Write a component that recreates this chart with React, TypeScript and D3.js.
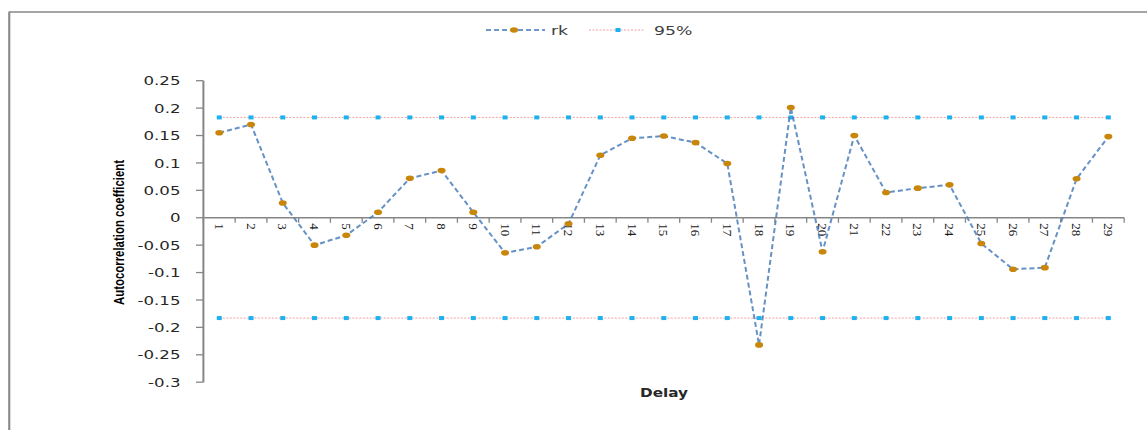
import React from "react";
import * as d3 from "d3";

const delays: number[] = [1,2,3,4,5,6,7,8,9,10,11,12,13,14,15,16,17,18,19,20,21,22,23,24,25,26,27,28,29];
const rk: number[] = [0.155,0.170,0.027,-0.050,-0.032,0.010,0.072,0.086,0.010,-0.064,-0.053,-0.011,0.114,0.145,0.149,0.137,0.099,-0.232,0.201,-0.062,0.150,0.046,0.054,0.060,-0.047,-0.094,-0.091,0.071,0.148];
const limit95: number = 0.183;
const yTickValues: number[] = [0.25,0.2,0.15,0.1,0.05,0,-0.05,-0.1,-0.15,-0.2,-0.25,-0.3];
const yTickLabels: string[] = ["0.25","0.2","0.15","0.1","0.05","0","-0.05","-0.1","-0.15","-0.2","-0.25","-0.3"];
const seriesNames: string[] = ["rk","95%"];

const W = 1147, H = 430;
const AXIS = "#868686";
const BLUE = "#4a7ebb";
const ORANGE = "#c8860a";
const CYAN = "#1db2ee";
const PINK = "#f2a0a0";
const SX = 1.33;

export default function App() {
  const x = d3.scaleBand<number>().domain(delays).range([203.4, 1124.2]).padding(0);
  const y = d3.scaleLinear().domain([-0.3, 0.25]).range([382.2, 80.7]);
  const cx = (d: number) => (x(d) as number) + x.bandwidth() / 2;
  const y0 = y(0);
  const line = d3.line<number>().x((_, i) => cx(delays[i])).y((v) => y(v));
  const upper = delays.map(() => limit95);
  const lower = delays.map(() => -limit95);
  const bounds = [...delays.map((d) => x(d) as number), 1124.2];

  const hText = (tx: number, ty: number, txt: string, props: any) => (
    <g transform={`translate(${tx},${ty}) scale(${SX},1)`}>
      <text {...props}>{txt}</text>
    </g>
  );

  return (
    <div style={{ position: "fixed", left: 0, top: 0 }}>
      <svg width={W} height={H} style={{ display: "block", background: "#fff" }}>
        <path d={`M9.3,${H} V12 H${W}`} fill="none" stroke="#888" strokeWidth={1.3} />
        <line x1={9.3} x2={9.3} y1={12} y2={H} stroke="#888" strokeWidth={2} />

        {/* legend */}
        <g>
          <line x1={486} x2={545} y1={30} y2={30} stroke={BLUE} strokeWidth={2} strokeDasharray="5,3" opacity={0.8} />
          <ellipse cx={514} cy={30} rx={4} ry={2.8} fill={ORANGE} />
          {hText(551, 34.5, seriesNames[0], { fontFamily: "DejaVu Sans, Verdana, sans-serif", fontSize: 13, fill: "#404040" })}
          <line x1={589} x2={645} y1={30} y2={30} stroke={PINK} strokeWidth={1} strokeDasharray="2,1.5" />
          <rect x={615.5} y={28} width={5} height={4} fill={CYAN} />
          {hText(654, 34.5, seriesNames[1], { fontFamily: "DejaVu Sans, Verdana, sans-serif", fontSize: 13, fill: "#404040" })}
        </g>

        {/* y axis */}
        <line x1={203.4} x2={203.4} y1={y(0.25)} y2={y(-0.3)} stroke={AXIS} strokeWidth={2} />
        {yTickValues.map((v, i) => (
          <g key={"yt" + i}>
            <line x1={196} x2={203.4} y1={y(v)} y2={y(v)} stroke={AXIS} strokeWidth={1.3} />
            {hText(180.5, y(v) + 4.6, yTickLabels[i], { fontFamily: "DejaVu Sans, Verdana, sans-serif", fontSize: 12.5, fill: "#262626", textAnchor: "end" })}
          </g>
        ))}

        {/* x axis at zero */}
        <line x1={203.4} x2={1124.2} y1={y0} y2={y0} stroke={AXIS} strokeWidth={1.5} />
        {bounds.map((b, i) => (
          <line key={"xt" + i} x1={b} x2={b} y1={y0} y2={y0 + 5} stroke={AXIS} strokeWidth={1.3} />
        ))}
        {delays.map((d) => (
          <g key={"xl" + d} transform={`translate(${cx(d) - 4.5},${y0 + 5.5}) rotate(90)`}>
            <text x={0} y={0}
              fontFamily="Liberation Serif, Times New Roman, serif" fontSize={13} fill="#1a1a1a">{d}</text>
          </g>
        ))}

        {/* 95% lines */}
        {[upper, lower].map((arr, k) => (
          <g key={"lim" + k}>
            <path d={line(arr) || ""} fill="none" stroke={PINK} strokeWidth={1} strokeDasharray="2,1.5" />
            {arr.map((v, i) => (
              <rect key={i} x={cx(delays[i]) - 2.5} y={y(v) - 2} width={5} height={4} fill={CYAN} />
            ))}
          </g>
        ))}

        {/* rk series */}
        <path d={line(rk) || ""} fill="none" stroke={BLUE} strokeWidth={2} strokeDasharray="5,3" opacity={0.85} />
        {rk.map((v, i) => (
          <ellipse key={"m" + i} cx={cx(delays[i])} cy={y(v)} rx={4} ry={2.8} fill={ORANGE} />
        ))}

        {/* axis titles */}
        <text transform={`translate(124,232.5) rotate(-90)`} textAnchor="middle"
          textLength={145} lengthAdjust="spacingAndGlyphs"
          fontFamily="Liberation Sans, Arial, sans-serif" fontWeight="bold" fontSize={14.5} fill="#000">Autocorrelation coefficient</text>
        {hText(664, 397, "Delay", { fontFamily: "DejaVu Sans, Verdana, sans-serif", fontSize: 11.5, fontWeight: "bold", fill: "#262626", textAnchor: "middle" })}
      </svg>
    </div>
  );
}
